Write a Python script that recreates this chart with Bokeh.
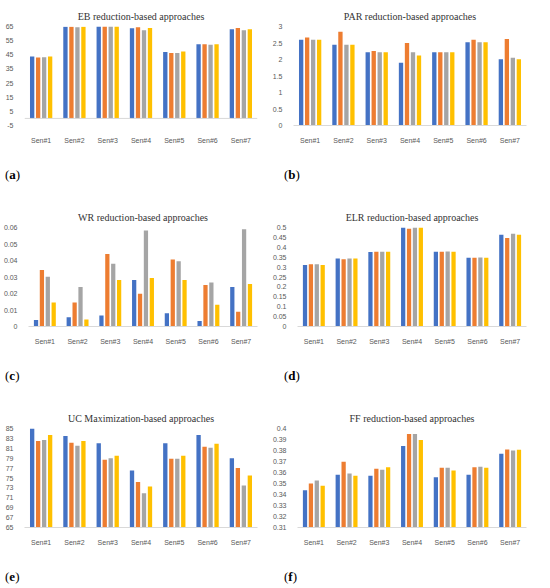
from bokeh.plotting import figure
from bokeh.models import (FactorRange, Range1d, FixedTicker, NumeralTickFormatter,
                          Div, ColumnDataSource, Span)
from bokeh.transform import dodge
from bokeh.layouts import row, column
from bokeh.embed import file_html
from bokeh.resources import INLINE

# ---------------- data ----------------
sensors = ["Sen#1", "Sen#2", "Sen#3", "Sen#4", "Sen#5", "Sen#6", "Sen#7"]
algorithms = ["CHIOLF-2", "WDO", "GWO", "DE"]
colors = ["#4472C4", "#ED7D31", "#A5A5A5", "#FFC000"]

eb_chiolf = [43.7, 64.8, 65.0, 63.7, 46.9, 52.5, 63.1]
eb_wdo = [43.1, 64.9, 65.0, 64.4, 46.3, 52.5, 63.9]
eb_gwo = [43.3, 64.4, 65.0, 62.4, 46.3, 52.1, 62.4]
eb_de = [43.7, 64.8, 65.0, 63.9, 47.3, 52.5, 63.1]

par_chiolf = [2.60, 2.45, 2.22, 1.90, 2.22, 2.52, 2.01]
par_wdo = [2.67, 2.84, 2.26, 2.50, 2.22, 2.60, 2.62]
par_gwo = [2.60, 2.45, 2.22, 2.22, 2.22, 2.52, 2.05]
par_de = [2.60, 2.45, 2.22, 2.12, 2.22, 2.52, 2.01]

wr_chiolf = [0.0040, 0.0056, 0.0066, 0.0282, 0.0080, 0.0034, 0.0240]
wr_wdo = [0.0342, 0.0146, 0.0440, 0.0198, 0.0406, 0.0252, 0.0090]
wr_gwo = [0.0302, 0.0240, 0.0380, 0.0582, 0.0396, 0.0266, 0.0590]
wr_de = [0.0146, 0.0042, 0.0282, 0.0294, 0.0282, 0.0132, 0.0258]

elr_chiolf = [0.310, 0.343, 0.376, 0.500, 0.377, 0.347, 0.464]
elr_wdo = [0.314, 0.340, 0.378, 0.494, 0.378, 0.347, 0.447]
elr_gwo = [0.314, 0.343, 0.378, 0.500, 0.379, 0.348, 0.468]
elr_de = [0.310, 0.343, 0.378, 0.500, 0.378, 0.347, 0.464]

uc_chiolf = [85.0, 83.5, 82.0, 76.5, 82.0, 83.7, 79.0]
uc_wdo = [82.5, 82.1, 78.7, 74.2, 78.9, 81.3, 77.0]
uc_gwo = [82.7, 81.5, 79.0, 71.9, 78.9, 81.1, 73.5]
uc_de = [83.7, 82.5, 79.5, 73.3, 79.5, 81.9, 75.5]

ff_chiolf = [0.3439, 0.3580, 0.3570, 0.3840, 0.3557, 0.3580, 0.3770]
ff_wdo = [0.3501, 0.3697, 0.3635, 0.3950, 0.3644, 0.3647, 0.3810]
ff_gwo = [0.3528, 0.3591, 0.3626, 0.3950, 0.3644, 0.3653, 0.3800]
ff_de = [0.3480, 0.3570, 0.3647, 0.3896, 0.3618, 0.3644, 0.3807]

eb_ticks = [-5, 5, 15, 25, 35, 45, 55, 65]
par_ticks = [0, 0.5, 1, 1.5, 2, 2.5, 3]
wr_ticks = [0, 0.01, 0.02, 0.03, 0.04, 0.05, 0.06]
elr_ticks = [0, 0.05, 0.1, 0.15, 0.2, 0.25, 0.3, 0.35, 0.4, 0.45, 0.5]
uc_ticks = [65, 67, 69, 71, 73, 75, 77, 79, 81, 83, 85]
ff_ticks = [0.31, 0.32, 0.33, 0.34, 0.35, 0.36, 0.37, 0.38, 0.39, 0.4]

# ---------------- style ----------------
W, H = 265, 161
GRAY = "#595959"
TICK_FONT = "Liberation Sans"
offsets = [-0.27, -0.09, 0.09, 0.27]
BAR_W = 0.13


def make_panel(title, series, ticks, base, zero_line=False):
    src = ColumnDataSource(dict(sensor=sensors, **{a: s for a, s in zip(algorithms, series)}))
    p = figure(x_range=FactorRange(factors=sensors),
               y_range=Range1d(start=ticks[0], end=ticks[-1]),
               width=W, height=H, output_backend="svg", toolbar_location=None,
               min_border_left=24, min_border_right=8, min_border_top=26,
               min_border_bottom=36)
    for a, c, off in zip(algorithms, colors, offsets):
        p.vbar(x=dodge("sensor", off, range=p.x_range), top=a, bottom=base,
               width=BAR_W, source=src, fill_color=c, line_color=None)

    p.title.text = title
    p.title.align = "center"
    p.title.text_font = "Liberation Serif"
    p.title.text_font_size = "10px"
    p.title.text_font_style = "normal"
    p.title.text_color = "#333333"

    p.xgrid.grid_line_color = None
    p.ygrid.grid_line_color = None
    p.outline_line_color = None

    p.yaxis.ticker = FixedTicker(ticks=ticks)
    p.yaxis.formatter = NumeralTickFormatter(format="0.[0000]")
    p.yaxis.axis_line_color = None
    p.yaxis.major_tick_line_color = None
    p.yaxis.minor_tick_line_color = None
    p.yaxis.major_label_text_font = TICK_FONT
    p.yaxis.major_label_text_font_size = "7px"
    p.yaxis.major_label_text_color = GRAY

    p.xaxis.major_tick_line_color = None
    p.xaxis.minor_tick_line_color = None
    p.xaxis.major_label_text_font = TICK_FONT
    p.xaxis.major_label_text_font_size = "7px"
    p.xaxis.major_label_text_color = GRAY
    if zero_line:
        p.xaxis.axis_line_color = None
        p.add_layout(Span(location=0, dimension="width", line_color="#d9d9d9", line_width=1))
    else:
        p.xaxis.axis_line_color = "#d9d9d9"
    return p


def caption(letter):
    return Div(text='<div style="text-align:center;font-family:Liberation Serif;font-size:13px;">(<b>%s</b>)</div>' % letter,
               width=W, height=30)


pa = make_panel("EB reduction-based approaches", [eb_chiolf, eb_wdo, eb_gwo, eb_de], eb_ticks, 0, True)
pb = make_panel("PAR reduction-based approaches", [par_chiolf, par_wdo, par_gwo, par_de], par_ticks, 0)
pc = make_panel("WR reduction-based approaches", [wr_chiolf, wr_wdo, wr_gwo, wr_de], wr_ticks, 0)
pd = make_panel("ELR reduction-based approaches", [elr_chiolf, elr_wdo, elr_gwo, elr_de], elr_ticks, 0)
pe = make_panel("UC Maximization-based approaches", [uc_chiolf, uc_wdo, uc_gwo, uc_de], uc_ticks, uc_ticks[0])
pf = make_panel("FF reduction-based approaches", [ff_chiolf, ff_wdo, ff_gwo, ff_de], ff_ticks, ff_ticks[0])

layout = column(
    row(pa, pb, spacing=4),
    row(caption("a"), caption("b"), spacing=4),
    row(pc, pd, spacing=4),
    row(caption("c"), caption("d"), spacing=4),
    row(pe, pf, spacing=4),
    row(caption("e"), caption("f"), spacing=4),
)

open("out.html", "w").write(file_html(layout, INLINE))
